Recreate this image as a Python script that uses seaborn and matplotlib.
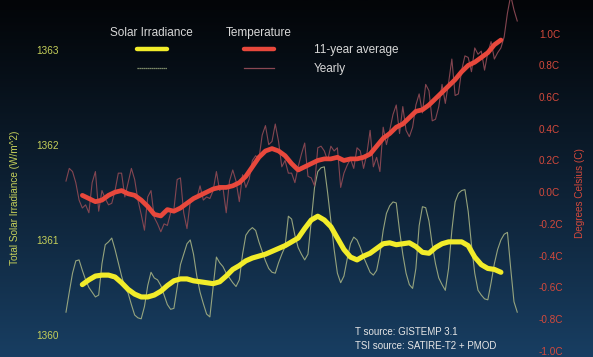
import numpy as np
import matplotlib
matplotlib.use("Agg")
import matplotlib.pyplot as plt
from matplotlib.lines import Line2D
import seaborn as sns

# --- data ---
years = np.arange(1880, 2019)
avg_years = np.arange(1885, 2014, 2)

temp_yearly = [
    0.07, 0.15, 0.13, 0.06, -0.05, -0.10, -0.08, -0.13, 0.06, 0.13,
    -0.12, 0.01, -0.04, -0.08, -0.07, 0.01, 0.12, 0.12, -0.03, 0.06,
    0.15, 0.08, -0.05, -0.14, -0.24, -0.03, 0.01, -0.16, -0.20, -0.25,
    -0.20, -0.21, -0.13, -0.11, 0.08, 0.09, -0.13, -0.23, -0.06, -0.04,
    -0.04, 0.04, -0.05, -0.03, -0.04, 0.01, 0.13, 0.01, 0.03, -0.13,
    0.07, 0.14, 0.07, -0.06, 0.11, 0.03, 0.08, 0.20, 0.23, 0.21,
    0.36, 0.42, 0.30, 0.32, 0.43, 0.32, 0.16, 0.20, 0.12, 0.12,
    0.06, 0.16, 0.24, 0.31, 0.10, 0.09, 0.04, 0.28, 0.29, 0.26,
    0.20, 0.29, 0.26, 0.28, 0.03, 0.12, 0.17, 0.21, 0.15, 0.28,
    0.26, 0.15, 0.24, 0.39, 0.16, 0.22, 0.13, 0.41, 0.30, 0.39,
    0.49, 0.55, 0.37, 0.54, 0.39, 0.35, 0.41, 0.55, 0.62, 0.50,
    0.68, 0.64, 0.45, 0.46, 0.54, 0.68, 0.56, 0.69, 0.84, 0.61,
    0.62, 0.77, 0.86, 0.85, 0.76, 0.91, 0.87, 0.89, 0.77, 0.88,
    0.95, 0.84, 0.88, 0.91, 0.98, 1.13, 1.24, 1.15, 1.08,
]

temp_avg = [
    -0.02, -0.04, -0.06, -0.05, -0.02, 0.00, 0.01, -0.01, -0.02, -0.05,
    -0.09, -0.14, -0.15, -0.11, -0.12, -0.10, -0.07, -0.04, -0.02, 0.00,
    0.02, 0.03, 0.03, 0.04, 0.06, 0.10, 0.16, 0.22, 0.26, 0.275,
    0.26, 0.23, 0.18, 0.14, 0.16, 0.18, 0.20, 0.21, 0.21, 0.22,
    0.20, 0.21, 0.21, 0.22, 0.24, 0.29, 0.34, 0.37, 0.41, 0.43,
    0.47, 0.51, 0.52, 0.55, 0.59, 0.63, 0.67, 0.71, 0.76, 0.80,
    0.82, 0.85, 0.88, 0.93, 0.96,
]

tsi_yearly = [
    1360.24, 1360.45, 1360.65, 1360.78, 1360.79, 1360.68, 1360.58, 1360.50, 1360.45, 1360.40,
    1360.42, 1360.75, 1360.95, 1360.98, 1361.02, 1360.90, 1360.76, 1360.62, 1360.50, 1360.44,
    1360.32, 1360.21, 1360.18, 1360.17, 1360.30, 1360.52, 1360.66, 1360.60, 1360.58, 1360.52,
    1360.42, 1360.32, 1360.27, 1360.28, 1360.50, 1360.74, 1360.85, 1360.96, 1361.00, 1360.85,
    1360.62, 1360.45, 1360.33, 1360.22, 1360.19, 1360.50, 1360.82, 1360.76, 1360.72, 1360.65,
    1360.60, 1360.55, 1360.51, 1360.58, 1360.85, 1361.05, 1361.10, 1361.13, 1361.10, 1360.98,
    1360.88, 1360.78, 1360.70, 1360.66, 1360.65, 1360.76, 1360.85, 1360.93, 1361.25, 1361.22,
    1361.05, 1360.92, 1360.85, 1360.79, 1360.85, 1361.20, 1361.55, 1361.72, 1361.76, 1361.77,
    1361.50, 1361.20, 1360.90, 1360.65, 1360.55, 1360.62, 1360.80, 1360.96, 1361.03, 1361.00,
    1360.92, 1360.82, 1360.74, 1360.66, 1360.63, 1360.68, 1360.85, 1361.10, 1361.28, 1361.36,
    1361.40, 1361.39, 1361.10, 1360.85, 1360.65, 1360.53, 1360.49, 1360.70, 1361.15, 1361.35,
    1361.34, 1361.20, 1360.95, 1360.75, 1360.60, 1360.53, 1360.47, 1360.70, 1361.10, 1361.40,
    1361.49, 1361.52, 1361.53, 1361.30, 1360.95, 1360.65, 1360.47, 1360.42, 1360.38, 1360.37,
    1360.55, 1360.75, 1360.90, 1361.00, 1361.06, 1361.08, 1360.70, 1360.35, 1360.24,
]

tsi_avg = [
    1360.53, 1360.58, 1360.62, 1360.63, 1360.63, 1360.61, 1360.55, 1360.48, 1360.43, 1360.40,
    1360.40, 1360.42, 1360.46, 1360.52, 1360.57, 1360.59, 1360.59, 1360.57, 1360.56, 1360.55,
    1360.54, 1360.56, 1360.62, 1360.69, 1360.73, 1360.78, 1360.81, 1360.83, 1360.85, 1360.88,
    1360.91, 1360.94, 1360.98, 1361.02, 1361.12, 1361.21, 1361.25, 1361.21, 1361.14, 1361.02,
    1360.90, 1360.82, 1360.79, 1360.83, 1360.86, 1360.91, 1360.96, 1360.97, 1360.95, 1360.96,
    1360.97, 1360.93, 1360.87, 1360.86, 1360.92, 1360.96, 1360.98, 1360.98, 1360.98, 1360.94,
    1360.82, 1360.74, 1360.70, 1360.69, 1360.66,
]

tsi_ticks = [1360, 1361, 1362, 1363]
tsi_tick_labels = ["1360", "1361", "1362", "1363"]
temp_ticks = [-1.0, -0.8, -0.6, -0.4, -0.2, 0.0, 0.2, 0.4, 0.6, 0.8, 1.0]
temp_tick_labels = ["-1.0C", "-0.8C", "-0.6C", "-0.4C", "-0.2C", "0.0C",
                    "0.2C", "0.4C", "0.6C", "0.8C", "1.0C"]

# --- colours ---
YELLOW = "#f2ec2a"
YELLOW_THIN = "#a3b083"
RED = "#e8483c"
RED_THIN = "#8a4853"
TSI_LABEL = "#c6d05a"
TEMP_LABEL = "#d4493c"
TEXT = "#d8d8d8"

plt.rcParams["font.family"] = ["Liberation Sans", "DejaVu Sans"]

W, H = 593, 357
fig = plt.figure(figsize=(W / 100, H / 100), dpi=100)

# background gradient
bg = fig.add_axes([0, 0, 1, 1], zorder=-5)
top = np.array([3, 5, 8]) / 255
bottom = np.array([24, 62, 98]) / 255
t = np.linspace(0, 1, 256)[:, None] ** 1.1
grad = top[None, :] * (1 - t) + bottom[None, :] * t
bg.imshow(grad[:, None, :], aspect="auto", extent=[0, 1, 0, 1])
bg.set_axis_off()

ax = fig.add_axes([62 / W, 0, (525 - 62) / W, 1])
ax.set_facecolor("none")
ax2 = ax.twinx()
ax2.set_facecolor("none")

# solar irradiance (left axis)
sns.lineplot(x=years, y=tsi_yearly, ax=ax, color=YELLOW_THIN, linewidth=0.8, alpha=0.9)
sns.lineplot(x=avg_years, y=tsi_avg, ax=ax, color=YELLOW, linewidth=3.7,
             solid_capstyle="round", solid_joinstyle="round")

# temperature (right axis)
sns.lineplot(x=years, y=temp_yearly, ax=ax2, color=RED_THIN, linewidth=0.8, alpha=0.95)
sns.lineplot(x=avg_years, y=temp_avg, ax=ax2, color=RED, linewidth=3.4,
             solid_capstyle="round", solid_joinstyle="round")

ax.set_xlim(1878.78, 2020.37)
ax.set_ylim(1359.768, 1363.526)
ax2.set_ylim(-1.04, 1.2125)

for a in (ax, ax2):
    for s in a.spines.values():
        s.set_visible(False)
    a.set_xlabel("")
    a.set_ylabel("")
ax.set_xticks([])

ax.set_yticks(tsi_ticks)
ax.set_yticklabels(tsi_tick_labels)
ax.tick_params(axis="y", length=0, pad=2, labelsize=7.2, labelcolor=TSI_LABEL)

ax2.set_yticks(temp_ticks)
ax2.set_yticklabels(temp_tick_labels)
ax2.tick_params(axis="y", length=0, pad=10, labelsize=7.2, labelcolor=TEMP_LABEL)

# axis titles
fig.text(15 / W, 1 - 198 / H, "Total Solar Irradiance (W/m^2)", rotation=90,
         ha="center", va="center", fontsize=7.2, color=TSI_LABEL)
fig.text(580 / W, 1 - 193 / H, "Degrees Celsius (C)", rotation=90,
         ha="center", va="center", fontsize=7.2, color=TEMP_LABEL)

# legend
fig.text(151 / W, 1 - 33 / H, "Solar Irradiance", ha="center", va="center",
         fontsize=8.5, color=TEXT)
fig.text(259 / W, 1 - 33 / H, "Temperature", ha="center", va="center",
         fontsize=8.5, color=TEXT)
handles = [
    Line2D([], [], color=YELLOW, linewidth=3.2, solid_capstyle="round"),
    Line2D([], [], color=YELLOW_THIN, linewidth=0.9, linestyle=(0, (1, 0.6))),
    Line2D([], [], color=RED, linewidth=3.2, solid_capstyle="round"),
    Line2D([], [], color=RED_THIN, linewidth=0.9),
]
leg = fig.legend(handles, ["", "", "11-year average", "Yearly"], ncol=2,
                 loc="upper left", bbox_to_anchor=(137 / W, 1 - 44 / H),
                 frameon=False, fontsize=8.5, handlelength=2.5,
                 handletextpad=3.4, columnspacing=3.2, labelspacing=0.6,
                 borderpad=0, borderaxespad=0, labelcolor=TEXT)

# sources
fig.text(355 / W, 1 - 332 / H, "T source: GISTEMP 3.1", ha="left", va="center",
         fontsize=7, color="#e6e6e6")
fig.text(355 / W, 1 - 346 / H, "TSI source: SATIRE-T2 + PMOD", ha="left", va="center",
         fontsize=7, color="#e6e6e6")

fig.savefig("out.png", dpi=100)
